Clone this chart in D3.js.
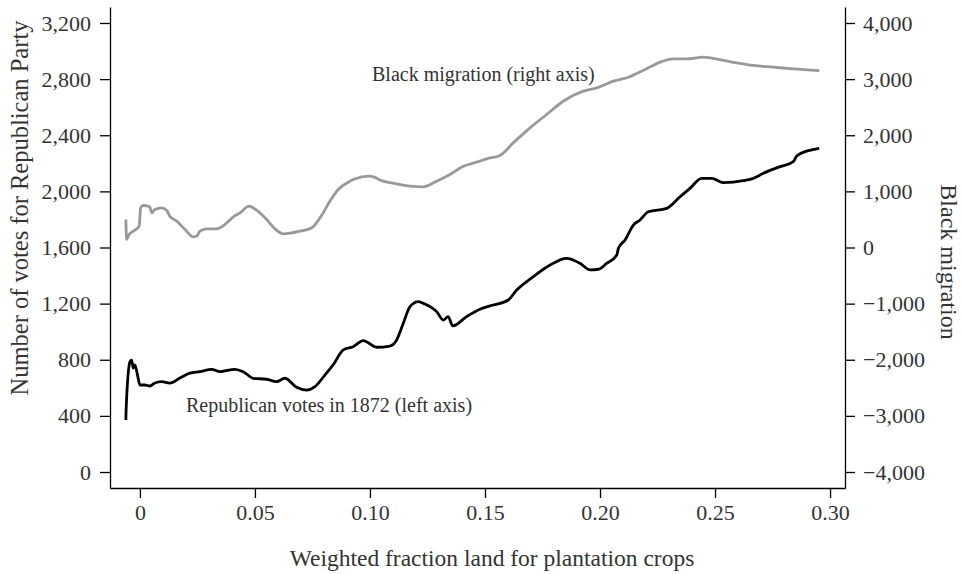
<!DOCTYPE html>
<html>
<head>
<meta charset="utf-8">
<script src="https://cdn.jsdelivr.net/npm/d3@7"></script>
<style>
  html, body { margin: 0; padding: 0; background: #fff; }
  svg { display: block; }
  text { font-family: "Liberation Serif", "Times New Roman", serif; fill: #333; }
</style>
</head>
<body>
<svg id="chart" width="963" height="574"></svg>
<script>
// ---- data ----
const xTickValues = [0, 0.05, 0.10, 0.15, 0.20, 0.25, 0.30];
const xTickLabels = ["0", "0.05", "0.10", "0.15", "0.20", "0.25", "0.30"];
const leftTickValues = [0, 400, 800, 1200, 1600, 2000, 2400, 2800, 3200];
const rightTickValues = [-4000, -3000, -2000, -1000, 0, 1000, 2000, 3000, 4000];

const xTitle = "Weighted fraction land for plantation crops";
const leftTitle = "Number of votes for Republican Party";
const rightTitle = "Black migration";
const votesLabel = "Republican votes in 1872 (left axis)";
const migrationLabel = "Black migration (right axis)";

// Republican votes in 1872 (left axis)
const votesX = [-0.0061, -0.0060, -0.0043, -0.0036, -0.0029, -0.0022, -0.0012, 0.0000, 0.0022, 0.0043,
  0.0065, 0.0094, 0.0130, 0.0174, 0.0217, 0.0261, 0.0312, 0.0348, 0.0413, 0.0449,
  0.0493, 0.0551, 0.0594, 0.0630, 0.0681, 0.0725, 0.0761, 0.0804, 0.0840, 0.0884,
  0.0927, 0.0971, 0.1029, 0.1087, 0.1116, 0.1145, 0.1174, 0.1210, 0.1239, 0.1290,
  0.1319, 0.1340, 0.1360, 0.1420, 0.1478, 0.1536, 0.1601, 0.1638, 0.1710, 0.1783,
  0.1855, 0.1913, 0.1957, 0.1993, 0.2029, 0.2073, 0.2080, 0.2109, 0.2145, 0.2174,
  0.2210, 0.2290, 0.2348, 0.2391, 0.2442, 0.2486, 0.2536, 0.2623, 0.2667, 0.2710,
  0.2783, 0.2840, 0.2855, 0.2906, 0.2953];
const votesY = [371, 442, 786, 798, 741, 763, 705, 620, 620, 613,
  634, 644, 634, 670, 705, 715, 732, 715, 732, 715,
  668, 661, 644, 668, 604, 584, 608, 691, 763, 870,
  893, 936, 889, 898, 941, 1060, 1178, 1214, 1197, 1143,
  1083, 1107, 1041, 1107, 1160, 1190, 1226, 1297, 1392, 1475,
  1523, 1487, 1440, 1445, 1487, 1547, 1594, 1654, 1760, 1796,
  1855, 1879, 1962, 2021, 2093, 2093, 2062, 2076, 2093, 2129,
  2176, 2212, 2252, 2290, 2307];

// Black migration (right axis)
const migX = [-0.0061, -0.0058, -0.0047, -0.0029, -0.0003, 0.0003, 0.0014, 0.0043, 0.0051, 0.0065,
  0.0094, 0.0116, 0.0130, 0.0160, 0.0196, 0.0232, 0.0247, 0.0261, 0.0290, 0.0333,
  0.0370, 0.0406, 0.0435, 0.0475, 0.0507, 0.0551, 0.0587, 0.0623, 0.0696, 0.0747,
  0.0783, 0.0826, 0.0862, 0.0913, 0.0927, 0.1000, 0.1058, 0.1116, 0.1174, 0.1232,
  0.1290, 0.1348, 0.1406, 0.1464, 0.1507, 0.1565, 0.1623, 0.1696, 0.1768, 0.1840,
  0.1927, 0.1986, 0.2058, 0.2130, 0.2166, 0.2210, 0.2261, 0.2319, 0.2377, 0.2449,
  0.2522, 0.2594, 0.2667, 0.2754, 0.2840, 0.2953];
const migY = [499, 143, 232, 290, 379, 707, 748, 725, 618, 677,
  707, 665, 558, 469, 321, 190, 202, 290, 333, 333,
  410, 547, 618, 736, 665, 499, 333, 244, 290, 351,
  529, 825, 1033, 1181, 1211, 1270, 1181, 1134, 1092, 1081,
  1181, 1300, 1448, 1520, 1580, 1639, 1865, 2132, 2370, 2606,
  2785, 2845, 2963, 3041, 3112, 3201, 3302, 3361, 3361, 3391,
  3349, 3290, 3243, 3213, 3183, 3153];

// ---- layout ----
const svg = d3.select("#chart");
const x = d3.scaleLinear().domain([-0.013, 0.3065]).range([110, 845]);
const yL = d3.scaleLinear().domain([-114, 3314]).range([488, 7]);
const yR = d3.scaleLinear().domain([(-114 - 1600) * 2.5, (3314 - 1600) * 2.5]).range([488, 7]);

const fmt = d3.format(",");

function styleAxis(g) {
  g.selectAll("path, line").attr("stroke", "#000").attr("stroke-width", 1.3);
  g.selectAll("text").attr("font-family", "Liberation Serif, serif").attr("font-size", 22).attr("fill", "#333");
}

svg.append("g").attr("transform", "translate(110,0)")
  .call(d3.axisLeft(yL).tickValues(leftTickValues).tickFormat(fmt).tickSize(10).tickSizeOuter(0).tickPadding(9))
  .call(styleAxis);

svg.append("g").attr("transform", "translate(845,0)")
  .call(d3.axisRight(yR).tickValues(rightTickValues).tickFormat(fmt).tickSize(10).tickSizeOuter(0).tickPadding(8))
  .call(styleAxis);

svg.append("g").attr("transform", "translate(0,488)")
  .call(d3.axisBottom(x).tickValues(xTickValues).tickFormat((d, i) => xTickLabels[i]).tickSize(10).tickSizeOuter(0).tickPadding(6))
  .call(styleAxis);

// ---- lines ----
const votes = votesX.map((d, i) => [d, votesY[i]]);
const mig = migX.map((d, i) => [d, migY[i]]);

svg.append("path").datum(mig)
  .attr("fill", "none").attr("stroke", "#999").attr("stroke-width", 2.8)
  .attr("stroke-linejoin", "round")
  .attr("d", d3.line().curve(d3.curveMonotoneX).x(d => x(d[0])).y(d => yR(d[1])));

svg.append("path").datum(votes)
  .attr("fill", "none").attr("stroke", "#000").attr("stroke-width", 2.8)
  .attr("stroke-linejoin", "round")
  .attr("d", d3.line().curve(d3.curveMonotoneX).x(d => x(d[0])).y(d => yL(d[1])));

// ---- text ----
svg.append("text").attr("x", 372).attr("y", 81).attr("font-size", 20).text(migrationLabel);
svg.append("text").attr("x", 186).attr("y", 412).attr("font-size", 20).text(votesLabel);

svg.append("text").attr("x", 492).attr("y", 566).attr("text-anchor", "middle").attr("font-size", 23.5).text(xTitle);

svg.append("text").attr("transform", "translate(28,208) rotate(-90)")
  .attr("text-anchor", "middle").attr("font-size", 24.5).text(leftTitle);

svg.append("text").attr("transform", "translate(941,262) rotate(90)")
  .attr("text-anchor", "middle").attr("font-size", 24).text(rightTitle);
</script>
</body>
</html>
